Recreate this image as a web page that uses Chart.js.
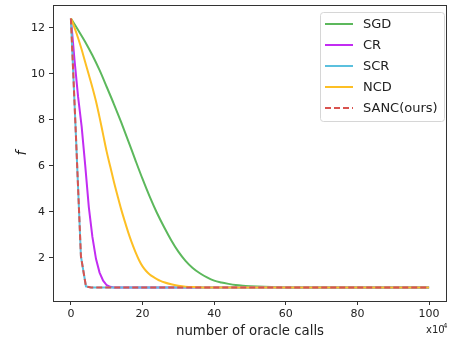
<!DOCTYPE html>
<html>
<head>
<meta charset="utf-8">
<script src="https://cdn.jsdelivr.net/npm/chart.js@4.4.1/dist/chart.umd.min.js"></script>
<style>
  html, body { margin: 0; padding: 0; background: #fff; }
  #wrap { width: 449px; height: 346px; }
</style>
</head>
<body>
<div id="wrap"><canvas id="lossChart" width="449" height="346"></canvas></div>
<script>
// oracle calls (x 10^4) and objective value f for each method
const sgdX  = [0, 2, 4, 6, 8, 10, 12, 14, 16, 18, 20, 22, 24, 26, 28, 30, 32, 34, 36, 38, 40, 42, 44, 46, 48, 50, 54, 58, 62, 100];
const sgdY  = [12.4, 11.9, 11.38, 10.8, 10.15, 9.42, 8.68, 7.9, 7.08, 6.24, 5.42, 4.65, 3.95, 3.33, 2.76, 2.26, 1.86, 1.55, 1.32, 1.14, 1.0, 0.92, 0.86, 0.81, 0.78, 0.76, 0.73, 0.71, 0.7, 0.7];

const crX   = [0, 1, 2, 3, 4, 5, 6, 7, 8, 9, 10, 11, 12, 100];
const crY   = [12.4, 10.6, 9.0, 7.7, 6.0, 4.2, 2.9, 1.95, 1.35, 1.0, 0.8, 0.73, 0.7, 0.7];

const scrX  = [0, 1.4, 2.8, 4.2, 5.6, 100];
const scrY  = [12.4, 7.3, 2.05, 0.75, 0.7, 0.7];

const ncdX  = [0, 1, 2, 3, 4, 5, 6, 7, 8, 9, 10, 11, 12, 13, 14, 15, 16, 17, 18, 19, 20, 21, 22, 23, 24, 25, 26, 28, 30, 32, 34, 36, 38, 100];
const ncdY  = [12.4, 12.0, 11.55, 11.05, 10.5, 9.95, 9.4, 8.8, 8.1, 7.35, 6.6, 5.95, 5.3, 4.7, 4.12, 3.6, 3.1, 2.65, 2.25, 1.9, 1.62, 1.42, 1.27, 1.16, 1.07, 0.99, 0.93, 0.84, 0.78, 0.74, 0.72, 0.71, 0.7, 0.7];

const sancX = [0, 1.4, 2.8, 4.2, 5.6, 100];
const sancY = [12.4, 7.3, 2.05, 0.75, 0.7, 0.7];

const methodNames = ['SGD', 'CR', 'SCR', 'NCD', 'SANC(ours)'];
const xTicks = [0, 20, 40, 60, 80, 100];
const yTicks = [2, 4, 6, 8, 10, 12];

document.addEventListener('DOMContentLoaded', function() {
    const FONT = "'DejaVu Sans', sans-serif";
    const colors = ['#5cb85c', '#c22cf2', '#5bc0de', '#fdbf24', '#d9534f'];
    const dashes = [[], [], [], [], [6, 3]];
    const smooth = [true, false, false, true, false];
    const series = [[sgdX, sgdY], [crX, crY], [scrX, scrY], [ncdX, ncdY], [sancX, sancY]];

    // pair up x / y arrays into points for the line datasets
    const datasets = series.map(function(s, i) {
        return {
            label: methodNames[i],
            data: s[0].map(function(x, k) { return { x: x, y: s[1][k] }; }),
            borderColor: colors[i],
            backgroundColor: colors[i],
            borderWidth: 2,
            borderDash: dashes[i],
            pointRadius: 0,
            cubicInterpolationMode: smooth[i] ? 'monotone' : 'default',
            tension: 0,
            fill: false,
            order: series.length - i
        };
    });

    // frame, legend box and the x10^4 offset label
    const decorations = {
        id: 'decorations',
        afterDraw: function(chart) {
            const ctx = chart.ctx;
            const a = chart.chartArea;
            ctx.save();
            ctx.strokeStyle = '#333';
            ctx.lineWidth = 1;
            ctx.strokeRect(a.left + 0.5, a.top + 0.5, a.right - a.left - 1, a.bottom - a.top);

            // legend
            const bx = 320.5, by = 12.5, bw = 124, bh = 109;
            ctx.beginPath();
            ctx.roundRect(bx, by, bw, bh, 3);
            ctx.fillStyle = 'rgba(255,255,255,0.8)';
            ctx.fill();
            ctx.strokeStyle = '#d6d6d6';
            ctx.stroke();
            ctx.font = '13px ' + FONT;
            ctx.textBaseline = 'middle';
            ctx.textAlign = 'left';
            methodNames.forEach(function(name, i) {
                const y = 24 + i * 21;
                ctx.beginPath();
                ctx.setLineDash(dashes[i]);
                ctx.strokeStyle = colors[i];
                ctx.lineWidth = 2;
                ctx.moveTo(325, y);
                ctx.lineTo(353, y);
                ctx.stroke();
                ctx.setLineDash([]);
                ctx.fillStyle = '#222';
                ctx.fillText(name, 363, y + 1);
            });

            // x10^4 multiplier
            ctx.fillStyle = '#222';
            ctx.font = '10px ' + FONT;
            ctx.textAlign = 'left';
            ctx.textBaseline = 'alphabetic';
            ctx.fillText('x10', 426, 333);
            ctx.font = '7px ' + FONT;
            ctx.fillText('4', 443, 328);
            ctx.restore();
        }
    };

    const ctx = document.getElementById('lossChart').getContext('2d');
    new Chart(ctx, {
        type: 'line',
        data: { datasets: datasets },
        options: {
            responsive: false,
            animation: false,
            layout: { padding: { top: 5, right: 2, left: 0, bottom: 0 } },
            plugins: {
                legend: { display: false },
                tooltip: { enabled: false }
            },
            scales: {
                x: {
                    type: 'linear',
                    min: -5,
                    max: 105,
                    afterFit: function(scale) {
                        scale.height = 45;
                        scale.paddingLeft = 0;
                        scale.paddingRight = 0;
                    },
                    afterBuildTicks: function(scale) {
                        scale.ticks = xTicks.map(function(v) { return { value: v }; });
                    },
                    grid: { drawOnChartArea: false, drawTicks: true, tickLength: 4, color: '#333' },
                    border: { display: false },
                    ticks: { color: '#222', font: { family: FONT, size: 11 }, padding: 3, maxRotation: 0 },
                    title: {
                        display: true,
                        text: 'number of oracle calls',
                        color: '#222',
                        font: { family: FONT, size: 13.3 },
                        padding: { top: 0, bottom: 6 }
                    }
                },
                y: {
                    type: 'linear',
                    min: 0.115,
                    max: 12.985,
                    afterFit: function(scale) {
                        scale.width = 53;
                        scale.paddingTop = 0;
                        scale.paddingBottom = 0;
                    },
                    afterBuildTicks: function(scale) {
                        scale.ticks = yTicks.map(function(v) { return { value: v }; });
                    },
                    grid: { drawOnChartArea: false, drawTicks: true, tickLength: 4, color: '#333' },
                    border: { display: false },
                    ticks: { color: '#222', font: { family: FONT, size: 11 }, padding: 4 },
                    title: {
                        display: true,
                        text: 'f',
                        color: '#222',
                        font: { family: FONT, size: 14, style: 'italic' },
                        padding: { top: 14, bottom: 0 }
                    }
                }
            }
        },
        plugins: [decorations]
    });
});
</script>
</body>
</html>
